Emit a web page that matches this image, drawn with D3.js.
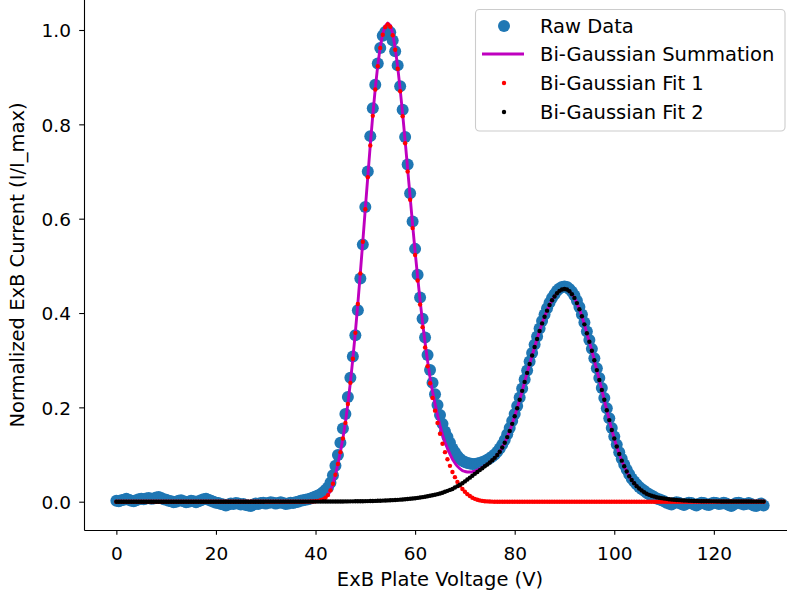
<!DOCTYPE html>
<html>
<head>
<meta charset="utf-8">
<script src="https://cdn.jsdelivr.net/npm/d3@7"></script>
<style>
html,body{margin:0;padding:0;background:#fff;}
svg{display:block;}
text{font-family:"DejaVu Sans",sans-serif;fill:#000;}
</style>
</head>
<body>
<script>
// ---------- data ----------
const voltage = [
0,0.5,1,1.5,2,2.5,3,3.5,4,4.5,5,5.5,6,6.5,7,7.5,8,8.5,9,9.5,
10,10.5,11,11.5,12,12.5,13,13.5,14,14.5,15,15.5,16,16.5,17,17.5,18,18.5,19,19.5,
20,20.5,21,21.5,22,22.5,23,23.5,24,24.5,25,25.5,26,26.5,27,27.5,28,28.5,29,29.5,
30,30.5,31,31.5,32,32.5,33,33.5,34,34.5,35,35.5,36,36.5,37,37.5,38,38.5,39,39.5,
40,40.5,41,41.5,42,42.5,43,43.5,44,44.5,45,45.5,46,46.5,47,47.5,48,48.5,49,49.5,
50,50.5,51,51.5,52,52.5,53,53.5,54,54.5,55,55.5,56,56.5,57,57.5,58,58.5,59,59.5,
60,60.5,61,61.5,62,62.5,63,63.5,64,64.5,65,65.5,66,66.5,67,67.5,68,68.5,69,69.5,
70,70.5,71,71.5,72,72.5,73,73.5,74,74.5,75,75.5,76,76.5,77,77.5,78,78.5,79,79.5,
80,80.5,81,81.5,82,82.5,83,83.5,84,84.5,85,85.5,86,86.5,87,87.5,88,88.5,89,89.5,
90,90.5,91,91.5,92,92.5,93,93.5,94,94.5,95,95.5,96,96.5,97,97.5,98,98.5,99,99.5,
100,100.5,101,101.5,102,102.5,103,103.5,104,104.5,105,105.5,106,106.5,107,107.5,108,108.5,109,109.5,
110,110.5,111,111.5,112,112.5,113,113.5,114,114.5,115,115.5,116,116.5,117,117.5,118,118.5,119,119.5,
120,120.5,121,121.5,122,122.5,123,123.5,124,124.5,125,125.5,126,126.5,127,127.5,128,128.5,129,129.5,
130];

const rawData = [
0.002,0.001,0.003,0.004,0.006,0.004,0.002,0.001,0.003,0.005,0.006,0.005,0.007,0.008,0.006,0.007,0.009,0.010,0.008,0.005,
0.004,0.002,0.001,-0.001,0.000,0.002,0.003,0.001,-0.001,0.000,0.002,0.001,-0.001,0.001,0.003,0.005,0.006,0.004,0.002,0.000,
-0.002,-0.003,-0.005,-0.006,-0.008,-0.006,-0.004,-0.005,-0.003,-0.004,-0.006,-0.005,-0.007,-0.008,-0.009,-0.006,-0.004,-0.005,-0.003,-0.002,
-0.004,-0.003,-0.001,-0.002,-0.004,-0.003,-0.001,-0.003,-0.005,-0.004,-0.002,-0.003,-0.001,0.000,0.002,0.003,0.004,0.005,0.007,0.009,
0.011,0.013,0.016,0.02,0.025,0.03,0.04,0.056,0.076,0.099,0.125,0.155,0.186,0.222,0.263,0.308,0.353,0.406,0.473,0.545,
0.625,0.70,0.775,0.834,0.884,0.929,0.962,0.988,0.996,1.0,0.995,0.978,0.955,0.925,0.881,0.831,0.773,0.715,0.654,0.594,
0.536,0.481,0.433,0.388,0.348,0.311,0.279,0.252,0.228,0.205,0.184,0.165,0.149,0.137,0.125,0.113,0.105,0.097,0.091,0.087,
0.084,0.082,0.081,0.080,0.080,0.081,0.082,0.084,0.086,0.089,0.092,0.096,0.100,0.106,0.113,0.121,0.131,0.143,0.156,0.171,
0.186,0.203,0.221,0.24,0.259,0.278,0.297,0.315,0.333,0.35,0.367,0.383,0.397,0.41,0.422,0.432,0.44,0.447,0.452,0.455,
0.456,0.455,0.451,0.445,0.437,0.426,0.413,0.397,0.38,0.361,0.343,0.324,0.304,0.283,0.262,0.241,0.22,0.198,0.177,0.156,
0.138,0.121,0.105,0.091,0.079,0.068,0.058,0.049,0.043,0.037,0.031,0.027,0.023,0.019,0.016,0.013,0.01,0.007,0.005,0.003,
0.001,-0.002,-0.004,-0.006,-0.003,-0.001,-0.002,-0.005,-0.007,-0.004,-0.002,-0.003,-0.006,-0.008,-0.005,-0.002,-0.003,-0.006,-0.007,-0.004,
-0.002,-0.003,-0.005,-0.004,-0.002,-0.004,-0.007,-0.009,-0.006,-0.003,-0.002,-0.004,-0.006,-0.005,-0.003,-0.005,-0.008,-0.009,-0.006,-0.004,
-0.008];

const fit1 = [
0,0,0,0,0,0,0,0,0,0,0,0,0,0,0,0,0,0,0,0,
0,0,0,0,0,0,0,0,0,0,0,0,0,0,0,0,0,0,0,0,
0,0,0,0,0,0,0,0,0,0,0,0,0,0,0,0,0,0,0,0,
0,0,0,0,0,0,0,0,0,0,0,0,0,0,0,0,0.0001,0.0002,0.0003,0.0005,
0.001,0.0018,0.003,0.005,0.0085,0.014,0.024,0.038,0.057,0.08,0.105,0.134,0.167,0.207,0.252,0.303,0.358,0.419,0.484,0.551,
0.62,0.688,0.755,0.818,0.874,0.923,0.962,0.99,1.006,1.012,1.007,0.989,0.958,0.918,0.87,0.817,0.76,0.7,0.64,0.58,
0.523,0.469,0.418,0.37,0.327,0.287,0.251,0.22,0.193,0.167,0.144,0.123,0.105,0.09,0.076,0.063,0.052,0.042,0.034,0.027,
0.021,0.016,0.012,0.0085,0.006,0.004,0.0027,0.0017,0.001,0.0006,0.0003,0.0001,0,0,0,0,0,0,0,0,
0,0,0,0,0,0,0,0,0,0,0,0,0,0,0,0,0,0,0,0,
0,0,0,0,0,0,0,0,0,0,0,0,0,0,0,0,0,0,0,0,
0,0,0,0,0,0,0,0,0,0,0,0,0,0,0,0,0,0,0,0,
0,0,0,0,0,0,0,0,0,0,0,0,0,0,0,0,0,0,0,0,
0,0,0,0,0,0,0,0,0,0,0,0,0,0,0,0,0,0,0,0,
0];

const fit2 = [
0,0,0,0,0,0,0,0,0,0,0,0,0,0,0,0,0,0,0,0,
0,0,0,0,0,0,0,0,0,0,0,0,0,0,0,0,0,0,0,0,
0,0,0,0,0,0,0,0,0,0,0,0,0,0,0,0,0,0,0,0,
0.0001,0.0001,0.0001,0.0001,0.0001,0.0001,0.0001,0.0001,0.0001,0.0001,0.0001,0.0001,0.0001,0.0001,0.0001,0.0001,0.0002,0.0002,0.0002,0.0002,
0.0002,0.0002,0.0002,0.0003,0.0003,0.0003,0.0003,0.0004,0.0004,0.0004,0.0005,0.0005,0.0006,0.0006,0.0007,0.0007,0.0008,0.0009,0.001,0.0011,
0.0012,0.0013,0.0014,0.0016,0.0017,0.0019,0.0021,0.0023,0.0025,0.0027,0.003,0.0033,0.0036,0.0039,0.0043,0.0047,0.0051,0.0056,0.0061,0.0067,
0.0073,0.008,0.0088,0.0096,0.0105,0.0115,0.0125,0.0136,0.0148,0.016,0.0175,0.019,0.021,0.023,0.025,0.027,0.03,0.033,0.036,0.039,
0.043,0.047,0.051,0.055,0.059,0.063,0.067,0.071,0.075,0.079,0.083,0.088,0.093,0.099,0.106,0.115,0.125,0.137,0.15,0.165,
0.181,0.198,0.216,0.235,0.254,0.273,0.292,0.31,0.328,0.345,0.362,0.378,0.392,0.405,0.417,0.427,0.435,0.442,0.447,0.45,
0.451,0.45,0.446,0.44,0.432,0.421,0.408,0.393,0.376,0.357,0.339,0.32,0.3,0.279,0.258,0.237,0.216,0.194,0.173,0.152,
0.134,0.117,0.101,0.087,0.075,0.064,0.054,0.046,0.039,0.033,0.028,0.024,0.02,0.017,0.0145,0.0125,0.011,0.0095,0.0085,0.0075,
0.0067,0.006,0.0053,0.0047,0.0042,0.0037,0.0033,0.0029,0.0026,0.0023,0.002,0.0018,0.0016,0.0014,0.0012,0.0011,0.001,0.0009,0.0008,0.0007,
0.0007,0.0006,0.0006,0.0005,0.0005,0.0005,0.0004,0.0004,0.0004,0.0004,0.0003,0.0003,0.0003,0.0003,0.0003,0.0003,0.0002,0.0002,0.0002,0.0002,
0.0002];

const xTicks = [0,20,40,60,80,100,120];
const yTicks = [0,0.2,0.4,0.6,0.8,1.0];
const yTickLabels = ["0.0","0.2","0.4","0.6","0.8","1.0"];
const legendLabels = ["Raw Data","Bi-Gaussian Summation","Bi-Gaussian Fit 1","Bi-Gaussian Fit 2"];
const xLabel = "ExB Plate Voltage (V)";
const yLabel = "Normalized ExB Current (I/I_max)";

[rawData, fit1, fit2].forEach((a,i)=>{ if(a.length!==voltage.length) throw new Error("length mismatch "+i+": "+a.length+" vs "+voltage.length); });

// summation of the two fit series
const summation = fit1.map((v,i)=>v+fit2[i]);

// ---------- drawing ----------
const W=787,H=596;
const svg = d3.select("body").append("svg").attr("width",W).attr("height",H);
const x = d3.scaleLinear().domain([-6.5,136.5]).range([84,796]);
const y = d3.scaleLinear().domain([-0.06,1.065]).range([530,-0.66]);

const BLUE="#1f77b4", MAG="#bf00bf", RED="#ff0000", BLK="#000000";

const pts = voltage.map((v,i)=>({v, raw:rawData[i], f1:fit1[i], f2:fit2[i], s:summation[i]}));

svg.append("g").selectAll("circle").data(pts).join("circle")
  .attr("cx",d=>x(d.v)).attr("cy",d=>y(d.raw)).attr("r",6).attr("fill",BLUE);

svg.append("path").datum(pts)
  .attr("d", d3.line().x(d=>x(d.v)).y(d=>y(d.s)))
  .attr("fill","none").attr("stroke",MAG).attr("stroke-width",2.9).attr("stroke-linejoin","round");

svg.append("g").selectAll("circle").data(pts).join("circle")
  .attr("cx",d=>x(d.v)).attr("cy",d=>y(d.f1)).attr("r",2.2).attr("fill",RED);

svg.append("g").selectAll("circle").data(pts).join("circle")
  .attr("cx",d=>x(d.v)).attr("cy",d=>y(d.f2)).attr("r",2.2).attr("fill",BLK);

// axes
const xAxis = svg.append("g").attr("transform","translate(0,530)")
  .call(d3.axisBottom(x).tickValues(xTicks).tickFormat(d3.format("d")).tickSize(4.8).tickSizeOuter(0));
const yAxis = svg.append("g").attr("transform","translate(84,0)")
  .call(d3.axisLeft(y).tickValues(yTicks).tickFormat((d,i)=>yTickLabels[i]).tickSize(4.8).tickSizeOuter(0));
[xAxis,yAxis].forEach(g=>{
  g.select(".domain").attr("stroke","#000").attr("stroke-width",1.1);
  g.selectAll(".tick line").attr("stroke","#000").attr("stroke-width",1.1);
  g.selectAll(".tick text").attr("font-family","DejaVu Sans").attr("font-size",18.5).attr("fill","#000");
});
xAxis.selectAll(".tick text").attr("y",29.5).attr("dy",null);
yAxis.selectAll(".tick text").attr("x",-13).attr("dy","0.36em");

svg.append("text").attr("x",440).attr("y",586).attr("text-anchor","middle")
  .attr("font-size",19.5).text(xLabel);
svg.append("text").attr("transform","translate(24,265) rotate(-90)").attr("text-anchor","middle")
  .attr("font-size",19.5).text(yLabel);

// legend
const lg = svg.append("g");
lg.append("rect").attr("x",475.5).attr("y",9.5).attr("width",309.5).attr("height",121.5)
  .attr("rx",4).attr("fill","#fff").attr("fill-opacity",0.8).attr("stroke","#cccccc").attr("stroke-width",1.1);
const rowY = [26,54,83,112];
lg.append("circle").attr("cx",504).attr("cy",rowY[0]).attr("r",6).attr("fill",BLUE);
lg.append("line").attr("x1",482).attr("x2",524).attr("y1",rowY[1]).attr("y2",rowY[1]).attr("stroke",MAG).attr("stroke-width",2.9);
lg.append("circle").attr("cx",504).attr("cy",rowY[2]).attr("r",2.2).attr("fill",RED);
lg.append("circle").attr("cx",504).attr("cy",rowY[3]).attr("r",2.2).attr("fill",BLK);
legendLabels.forEach((t,i)=>{
  lg.append("text").attr("x",540).attr("y",rowY[i]+7).attr("font-size",19.5).text(t);
});
</script>
</body>
</html>
